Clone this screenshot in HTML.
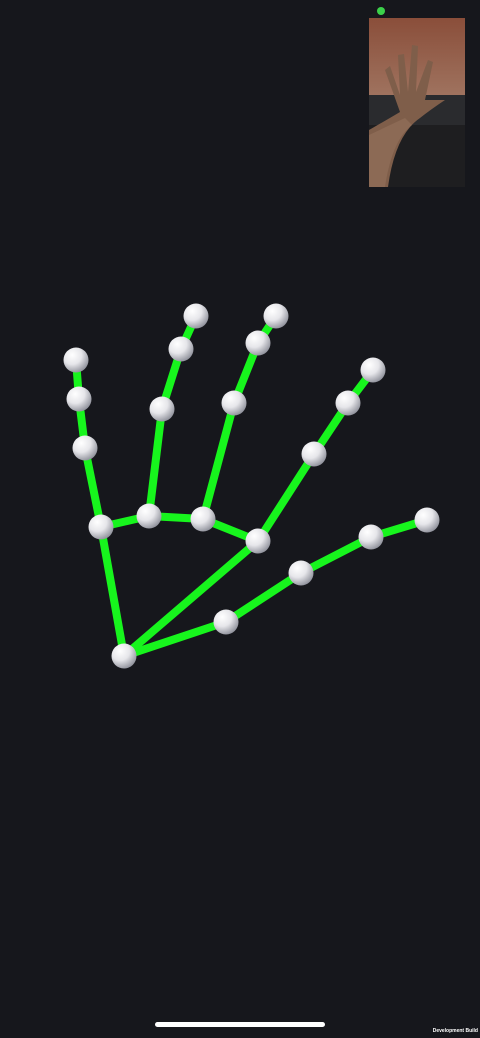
<!DOCTYPE html>
<html><head><meta charset="utf-8">
<style>
html,body{margin:0;padding:0;background:#16171c;width:480px;height:1038px;overflow:hidden}
svg{display:block}
.dev{position:absolute;right:2px;top:1028px;font:bold 5px "Liberation Sans",sans-serif;color:#fff;white-space:nowrap}
</style></head>
<body>
<svg id="s" width="480" height="1038">
<defs>
<radialGradient id="ball" cx="0.35" cy="0.3" r="0.75">
<stop offset="0" stop-color="#ffffff"/><stop offset="0.5" stop-color="#e6e6ea"/><stop offset="1" stop-color="#8d8f99"/>
</radialGradient>
<linearGradient id="brick" x1="0" y1="0" x2="0" y2="1">
<stop offset="0" stop-color="#8a4e3a"/><stop offset="1" stop-color="#a07460"/>
</linearGradient>
</defs>
<rect width="480" height="1038" fill="#16171c"/>
<g>
<rect x="369" y="18" width="96" height="169" fill="#1e1e20"/>
<rect x="369" y="18" width="96" height="80" fill="url(#brick)"/>
<rect x="369" y="95" width="96" height="30" fill="#2a2b2e"/>
<path d="M369 130 Q390 118 400 112 L385 70 L390 66 L400 95 L398 55 L404 54 L408 92 L412 45 L418 46 L416 92 L428 60 L433 62 L425 100 L445 100 Q430 110 420 118 Q395 135 388 187 L369 187Z" fill="#7f5e4a"/>
<path d="M369 135 Q390 125 405 118 L412 125 Q392 140 385 187 L369 187Z" fill="#8c6a55"/>
</g>
<circle cx="381" cy="11" r="4" fill="#3bd14a"/>
<g id="bones"></g>
<g id="joints"></g>
<rect x="155" y="1022" width="170" height="5" rx="2.5" fill="#ffffff"/>
</svg>
<div class="dev">Development Build</div>
<script>
const jointX=[124,226,301,371,427,258,314,348,373,203,234,258,276,149,162,181,196,101,85,79,76];
const jointY=[656,622,573,537,520,541,454,403,370,519,403,343,316,516,409,349,316,527,448,399,360];
const boneFrom=[0,1,2,3,0,5,6,7,5,9,10,11,9,13,14,15,13,17,18,19,0];
const boneTo=[1,2,3,4,5,6,7,8,9,10,11,12,13,14,15,16,17,18,19,20,17];
const NS="http://www.w3.org/2000/svg";
const bones=document.getElementById('bones'),joints=document.getElementById('joints');
for(let i=0;i<boneFrom.length;i++){
  const l=document.createElementNS(NS,'line');
  l.setAttribute('x1',jointX[boneFrom[i]]);l.setAttribute('y1',jointY[boneFrom[i]]);
  l.setAttribute('x2',jointX[boneTo[i]]);l.setAttribute('y2',jointY[boneTo[i]]);
  l.setAttribute('stroke','#17f51d');l.setAttribute('stroke-width','8');l.setAttribute('stroke-linecap','round');
  
  
  bones.appendChild(l);
}
for(let i=0;i<jointX.length;i++){
  const c=document.createElementNS(NS,'circle');
  c.setAttribute('cx',jointX[i]);c.setAttribute('cy',jointY[i]);c.setAttribute('r','12.5');
  c.setAttribute('fill','url(#ball)');
  
  
  joints.appendChild(c);
}
</script>
</body></html>
